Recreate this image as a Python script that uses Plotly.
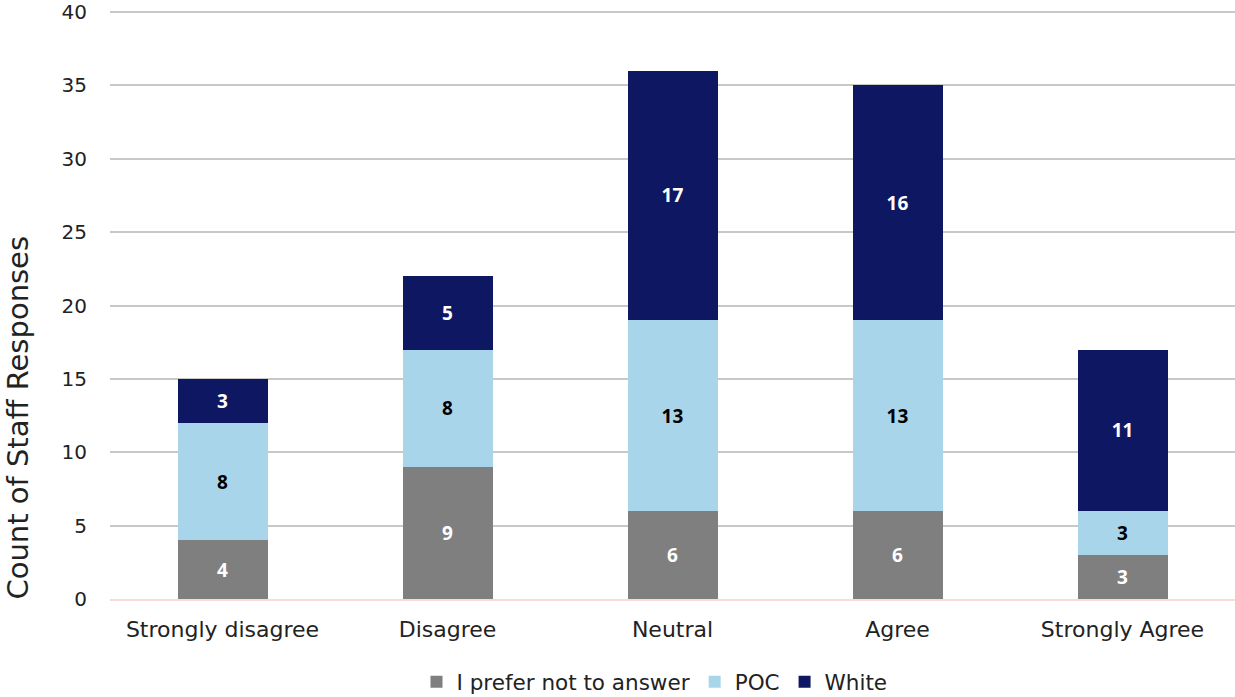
import plotly.graph_objects as go

categories = ["Strongly disagree", "Disagree", "Neutral", "Agree", "Strongly Agree"]
prefer_not = [4, 9, 6, 6, 3]
poc = [8, 8, 13, 13, 3]
white = [3, 5, 17, 16, 11]

series = [
    ("I prefer not to answer", prefer_not, "#7f7f7f", "white"),
    ("POC", poc, "#a9d5ea", "black"),
    ("White", white, "#0e1761", "white"),
]

FONT = "DejaVu Sans, sans-serif"
LABEL_FONT = "Open Sans, sans-serif"

fig = go.Figure()
for name, vals, color, tcolor in series:
    fig.add_trace(go.Bar(
        x=categories, y=vals, name=name,
        marker=dict(color=color, line=dict(width=0)),
        text=[str(v) for v in vals],
        textposition="inside", insidetextanchor="middle",
        textangle=0,
        textfont=dict(color=tcolor, size=19, family=LABEL_FONT, weight="bold"),
        cliponaxis=False,
    ))

# y-axis title placed as a rotated annotation, sitting low beside the axis
fig.add_annotation(
    text="Count of Staff Responses", textangle=-90,
    xref="paper", yref="paper", x=-0.082, y=0.305,
    xanchor="center", yanchor="middle", showarrow=False,
    font=dict(size=29, color="#222222", family=FONT),
)

fig.update_layout(
    barmode="stack",
    bargap=0.6,
    width=1235, height=697,
    margin=dict(l=110, r=0, t=5, b=98, autoexpand=False),
    paper_bgcolor="white", plot_bgcolor="white",
    font=dict(family=FONT, color="#222222", size=20),
    showlegend=True,
    legend=dict(
        orientation="h", x=0.484, xanchor="center",
        yref="container", y=0.022, yanchor="middle",
        font=dict(size=21.5, color="#222222"), traceorder="normal",
    ),
    xaxis=dict(
        showgrid=False, showline=True, linecolor="#f8dcd2", linewidth=2,
        tickfont=dict(size=22, color="#222222"), ticks="", ticklabelstandoff=10,
        automargin=False,
    ),
    yaxis=dict(
        range=[0, 40.48], tickvals=[0, 5, 10, 15, 20, 25, 30, 35, 40],
        showgrid=True, gridcolor="#c8c8c8", gridwidth=1.5,
        zeroline=False, showline=False, automargin=False,
        tickfont=dict(size=20, color="#222222"), ticklabelstandoff=22,
    ),
)

fig.write_html("out.html")
